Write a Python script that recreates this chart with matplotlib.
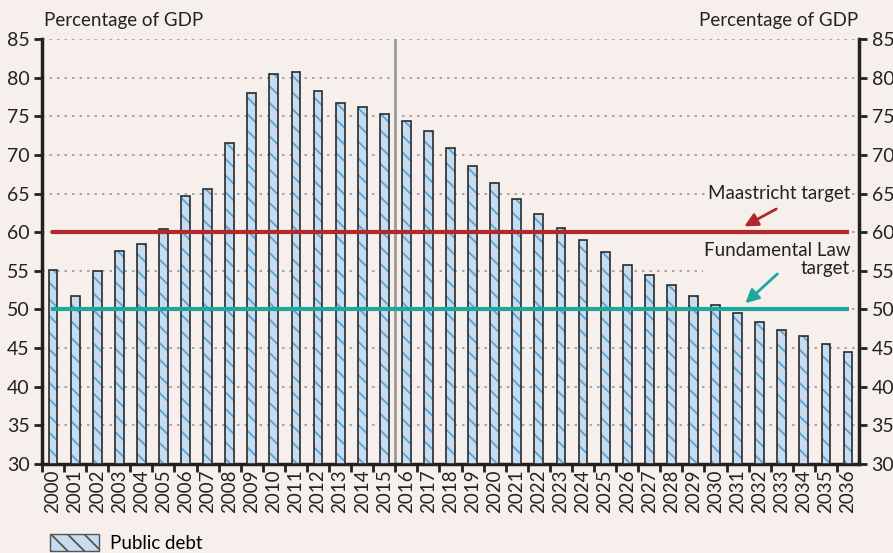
import numpy as np
import matplotlib.pyplot as plt
from matplotlib.patches import Patch

years = list(range(2000, 2037))
debt = [55.1, 51.8, 55.0, 57.6, 58.5, 60.4, 64.7, 65.6, 71.6, 78.0,
        80.5, 80.7, 78.3, 76.7, 76.2, 75.3, 74.4, 73.1, 70.9, 68.5,
        66.3, 64.3, 62.4, 60.6, 59.0, 57.4, 55.8, 54.5, 53.1, 51.8,
        50.6, 49.5, 48.4, 47.4, 46.5, 45.5, 44.5]
maastricht = 60
fund_law = 50
yticks = list(range(30, 90, 5))

bg = '#F6EFEC'
fill = '#C6DCF0'
hatch_col = '#5BA3D6'
plt.rcParams['font.family'] = ['Lato', 'DejaVu Sans']
plt.rcParams['hatch.linewidth'] = 1.3

fig = plt.figure(figsize=(8.93, 5.53), dpi=100, facecolor=bg)
ax = fig.add_axes([0.047, 0.161, 0.915, 0.7685], facecolor=bg)

x = np.arange(len(years))
heights = [d - 30 for d in debt]
# fill + blue hatch, then dark outline on top
ax.bar(x, heights, bottom=30, width=0.4, color=fill, edgecolor=hatch_col,
       linewidth=0, hatch='\\\\', zorder=3)
ax.bar(x, heights, bottom=30, width=0.4, color='none', edgecolor='#2b2b2b',
       linewidth=1.2, zorder=3)

ax.set_xlim(-0.5, len(years) - 0.5)
ax.set_ylim(30, 85)
ax.set_yticks(yticks)
for y in yticks[1:]:
    ax.axhline(y, color='#999999', linestyle=(0, (1.5, 3)), linewidth=1.2, zorder=1)

ax.hlines(maastricht, -0.07, len(years) - 0.95, color='#B3292B', linewidth=3, zorder=4)
ax.hlines(fund_law, -0.07, len(years) - 0.95, color='#1EA89B', linewidth=3, zorder=4)
ax.axvline(15.5, color='#9a9a9a', linewidth=2, zorder=2)

ax.set_xticks(x - 0.5, minor=False)
ax.set_xticklabels([])
ax.set_xticks(x, minor=True)
ax.set_xticklabels([str(y) for y in years], minor=True, rotation=90, fontsize=13.5)
ax.tick_params(axis='x', which='major', direction='out', length=6, width=2, color='#222222')
ax.tick_params(axis='x', which='minor', length=0, pad=4, labelcolor='#222222')
ax.tick_params(axis='y', direction='out', length=6, width=2, color='#222222',
               labelsize=14, labelcolor='#222222', right=True, labelright=True, pad=3)

for s in ['left', 'right', 'bottom']:
    ax.spines[s].set_linewidth(2.5)
    ax.spines[s].set_color('#222222')
ax.spines['top'].set_visible(False)

halo = dict(boxstyle='square,pad=0.05', fc=bg, ec='none')
ax.text(36.1, 65, 'Maastricht target', ha='right', va='center', fontsize=13.5,
        color='#222222', bbox=halo, zorder=5)
ax.text(36.1, 56.5, 'Fundamental Law\ntarget', ha='right', va='center', fontsize=13.5,
        color='#222222', linespacing=1.05, bbox=halo, zorder=5)
ax.annotate('', xy=(31.3, 60.75), xytext=(32.75, 63.0),
            arrowprops=dict(arrowstyle='-|>', color='#B3292B', lw=2, mutation_scale=20,
                            shrinkA=0, shrinkB=0), zorder=6)
ax.annotate('', xy=(31.35, 50.8), xytext=(32.8, 54.6),
            arrowprops=dict(arrowstyle='-|>', color='#1EA89B', lw=2, mutation_scale=20,
                            shrinkA=0, shrinkB=0), zorder=6)

fig.text(0.049, 0.963, 'Percentage of GDP', ha='left', va='center', fontsize=13.5, color='#222222')
fig.text(0.961, 0.963, 'Percentage of GDP', ha='right', va='center', fontsize=13.5, color='#222222')

handle = Patch(facecolor=fill, edgecolor='#555555', hatch='\\\\', linewidth=1)
fig.legend([handle], ['Public debt'], loc='lower left', bbox_to_anchor=(0.037, -0.028),
           frameon=False, fontsize=13.5, handlelength=2.6, handleheight=1.0, handletextpad=0.6)

fig.savefig('out.png', dpi=100, facecolor=bg)
